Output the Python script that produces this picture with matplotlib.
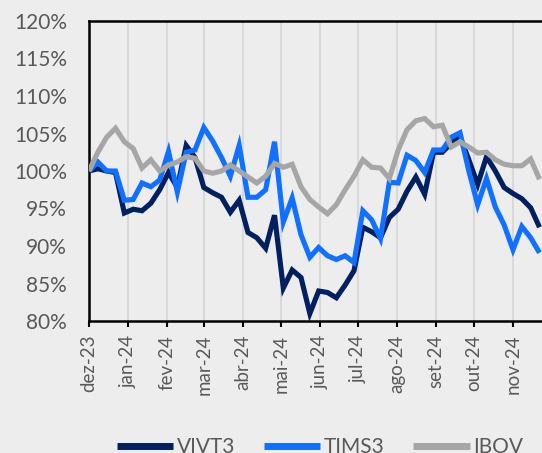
import matplotlib
matplotlib.use("Agg")
import matplotlib.pyplot as plt
import matplotlib.dates as mdates
from matplotlib.ticker import FixedLocator, FuncFormatter
import numpy as np
import datetime as dt

# ---- data ----
start_date = dt.date(2023, 12, 1)
n_weeks = 52
dates = [start_date + dt.timedelta(days=7 * i) for i in range(n_weeks)]

vivt3 = [100.0, 100.3, 100.0, 99.8, 94.4, 94.9, 94.7, 95.7, 97.5, 99.8,
         97.8, 103.4, 101.8, 97.8, 97.1, 96.5, 94.5, 96.1, 91.8, 91.1,
         89.7, 94.1, 84.4, 86.8, 85.8, 81.0, 84.0, 83.8, 83.1, 84.8,
         86.7, 92.5, 91.9, 91.1, 93.8, 94.9, 97.3, 99.2, 96.9, 102.5,
         102.5, 103.7, 104.6, 101.5, 98.2, 101.9, 100.0, 97.8, 97.0, 96.3,
         95.1, 92.5]
tims3 = [100.0, 101.2, 100.0, 100.0, 96.1, 96.2, 98.4, 97.9, 98.8, 102.6,
         97.2, 102.5, 102.8, 105.8, 104.0, 101.8, 99.3, 103.4, 96.5, 96.5,
         97.5, 103.9, 93.2, 96.4, 91.5, 88.5, 89.8, 88.7, 88.2, 88.7,
         87.8, 94.7, 93.5, 91.0, 98.5, 98.4, 102.1, 101.4, 99.8, 102.8,
         102.8, 104.5, 105.1, 100.0, 95.5, 99.0, 95.2, 92.8, 89.5, 92.6,
         91.1, 89.1]
ibov = [100.0, 102.5, 104.5, 105.7, 103.9, 103.0, 100.4, 101.5, 100.0, 100.8,
        101.2, 101.9, 101.7, 100.0, 99.7, 100.0, 100.8, 100.0, 99.2, 98.4,
        99.3, 101.0, 100.5, 100.9, 97.9, 96.2, 95.2, 94.3, 95.5, 97.5,
        99.3, 101.5, 100.5, 100.4, 99.0, 102.8, 105.5, 106.7, 107.0, 105.9,
        106.1, 103.2, 103.9, 103.2, 102.4, 102.5, 101.5, 100.9, 100.7, 100.7,
        101.6, 98.9]

series_names = ["VIVT3", "TIMS3", "IBOV"]
month_starts = [dt.date(2023, 12, 1)] + [dt.date(2024, m, 1) for m in range(1, 12)]
month_labels = ["dez-23", "jan-24", "fev-24", "mar-24", "abr-24", "mai-24",
                "jun-24", "jul-24", "ago-24", "set-24", "out-24", "nov-24"]
y_ticks = [80, 85, 90, 95, 100, 105, 110, 115, 120]

# ---- style ----
bg = "#EDEDED"
colors = ["#002060", "#1070FF", "#A6A6A6"]
text_color = "#595959"
plt.rcParams['font.family'] = ['Lato', 'DejaVu Sans']

W, H = 542, 453
fig = plt.figure(figsize=(W / 100, H / 100), dpi=100)
fig.patch.set_facecolor(bg)

left_px, right_px, top_px, bottom_px = 89, 542, 21, 321
ax = fig.add_axes([left_px / W, 1 - bottom_px / H,
                   (right_px - left_px) / W, (bottom_px - top_px) / H])
ax.set_facecolor(bg)

xd = mdates.date2num(dates)
for vals, c, name in zip([vivt3, tims3, ibov], colors, series_names):
    ax.plot(xd, vals, color=c, lw=3.7, label=name, solid_joinstyle='miter',
            solid_capstyle='butt', zorder=3)

x0 = mdates.date2num(start_date)
px_per_day = (513 - 89) / 336.0
ax.set_xlim(x0, x0 + (right_px - left_px) / px_per_day)
ax.set_ylim(80, 120)

ax.xaxis.set_major_locator(FixedLocator(mdates.date2num(month_starts)))
ax.set_xticklabels(month_labels, rotation=90, fontsize=13.5, color=text_color)
ax.yaxis.set_major_locator(FixedLocator(y_ticks))
ax.yaxis.set_major_formatter(FuncFormatter(lambda v, p: f"{int(v)}%"))
for lab in ax.get_yticklabels():
    lab.set_fontsize(15)
    lab.set_color(text_color)
ax.tick_params(axis='y', length=0, pad=16, labelsize=15, labelcolor=text_color)
ax.tick_params(axis='x', length=4, width=1.5, color='black', pad=6,
               labelsize=13.5, labelcolor=text_color)

ax.grid(axis='x', color='#D9D9D9', lw=1.5, zorder=0)
ax.grid(axis='y', visible=False)
for s in ['left', 'bottom', 'top']:
    ax.spines[s].set_color('black')
    ax.spines[s].set_linewidth(1.8)
ax.spines['right'].set_visible(False)

leg = fig.legend(loc='center', bbox_to_anchor=(320 / W, 1 - 447 / H), ncol=3,
                 frameon=False, fontsize=15, handlelength=2.7, handletextpad=0.15,
                 columnspacing=1.4, labelcolor=text_color)
for h in leg.get_lines():
    h.set_linewidth(5)

fig.savefig("out.png", dpi=100, facecolor=bg)
